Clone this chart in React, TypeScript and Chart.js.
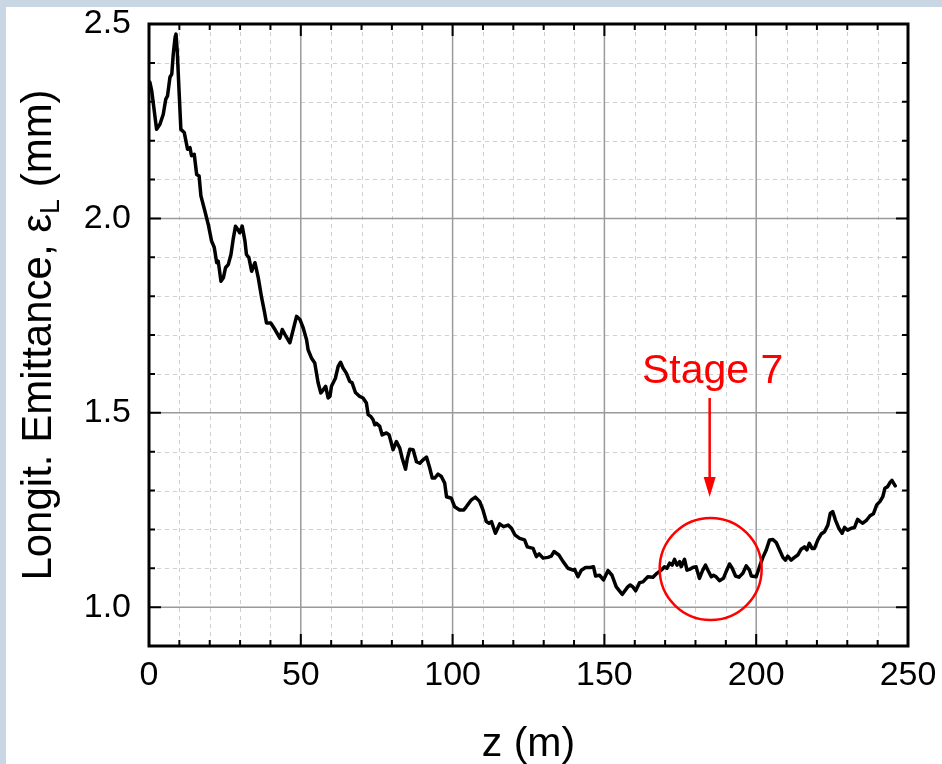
import React, { useEffect, useRef } from "react";
import { Chart, registerables } from "chart.js";

Chart.register(...registerables);

const zValues = [
  0.3, 0.9, 2.5, 3.6, 4.7, 5.5, 6.1, 6.9, 7.5, 8.0, 8.6, 8.9, 9.3, 9.9, 10.5, 11.6, 12.7, 13.5, 14.0, 14.9,
  15.7, 16.5, 17.1, 18.4, 19.5, 20.6, 21.5, 22.3, 22.8, 23.7, 24.5, 25.2, 26.1, 27.0, 27.8, 28.5, 29.2, 29.9,
  30.7, 31.6, 32.1, 32.9, 33.8, 34.9, 36.0, 37.1, 38.0, 38.7, 40.1, 41.5, 43.1, 43.9, 44.8, 46.4, 47.5, 48.6,
  49.7, 50.8, 51.9, 52.4, 53.5, 54.6, 55.7, 56.6, 57.4, 58.2, 59.0, 59.6, 60.1, 61.4, 62.3, 63.1, 63.9, 65.0,
  66.1, 66.9, 68.0, 69.4, 70.5, 71.6, 72.2, 73.1, 73.8, 74.4, 74.9, 76.0, 76.8, 78.2, 79.1, 80.4, 81.5, 82.6,
  83.4, 84.5, 85.1, 85.9, 87.0, 88.1, 89.2, 90.3, 91.4, 92.5, 93.3, 94.1, 95.2, 96.3, 97.4, 98.0, 99.6, 100.7,
  102.3, 103.7, 104.5, 106.2, 107.5, 108.9, 110.0, 111.1, 112.0, 112.8, 114.1, 115.5, 116.8, 118.3, 119.4,
  120.5, 122.1, 123.7, 124.6, 126.5, 127.6, 128.5, 129.8, 131.4, 132.5, 133.4, 135.0, 136.4, 138.0, 139.7,
  140.2, 141.3, 142.4, 143.8, 145.4, 146.4, 147.1, 148.4, 149.7, 151.2, 152.5, 153.9, 155.9, 157.7, 158.5,
  159.4, 160.3, 161.6, 162.7, 164.3, 166.0, 167.3, 168.7, 169.8, 170.6, 171.5, 172.3, 173.1, 173.9, 174.8,
  175.3, 176.4, 177.2, 178.0, 179.1, 180.2, 181.3, 182.4, 183.3, 184.1, 185.2, 185.9, 186.8, 187.9, 189.2,
  190.3, 191.2, 192.1, 193.2, 194.3, 195.6, 196.7, 197.8, 198.4, 200.0, 201.1, 202.2, 203.3, 204.4, 205.5,
  206.6, 207.7, 208.8, 209.6, 210.4, 211.5, 212.6, 213.7, 214.8, 215.9, 216.7, 217.5, 218.4, 219.2, 220.3,
  221.4, 222.5, 223.6, 224.4, 225.2, 226.1, 227.2, 228.3, 229.1, 230.1, 231.3, 232.4, 233.4, 234.3, 235.1,
  236.4, 237.5, 238.6, 239.7, 240.8, 241.7, 242.4, 243.3, 244.1, 244.7, 245.8,
];

const emittance = [
  2.35, 2.328, 2.229, 2.242, 2.268, 2.306, 2.315, 2.363, 2.371, 2.423, 2.466, 2.474, 2.431, 2.328, 2.229, 2.221,
  2.178, 2.182, 2.161, 2.165, 2.113, 2.109, 2.058, 2.019, 1.985, 1.942, 1.925, 1.886, 1.89, 1.838, 1.847, 1.873,
  1.881, 1.907, 1.95, 1.98, 1.972, 1.963, 1.98, 1.942, 1.907, 1.899, 1.864, 1.886, 1.847, 1.796, 1.761, 1.731,
  1.731, 1.714, 1.692, 1.714, 1.701, 1.68, 1.714, 1.748, 1.74, 1.718, 1.688, 1.662, 1.641, 1.628, 1.577, 1.551,
  1.559, 1.568, 1.538, 1.542, 1.568, 1.589, 1.619, 1.63, 1.615, 1.602, 1.581, 1.577, 1.552, 1.542, 1.538, 1.525,
  1.495, 1.49, 1.482, 1.469, 1.473, 1.465, 1.443, 1.448, 1.443, 1.405, 1.426, 1.409, 1.383, 1.355, 1.383, 1.406,
  1.405, 1.374, 1.37, 1.379, 1.386, 1.357, 1.332, 1.332, 1.342, 1.336, 1.319, 1.284, 1.28, 1.258, 1.25, 1.25,
  1.258, 1.276, 1.283, 1.272, 1.25, 1.22, 1.216, 1.22, 1.19, 1.214, 1.207, 1.211, 1.203, 1.186, 1.177, 1.173,
  1.155, 1.151, 1.13, 1.137, 1.126, 1.128, 1.131, 1.143, 1.134, 1.117, 1.1, 1.095, 1.097, 1.078, 1.095, 1.102,
  1.102, 1.104, 1.08, 1.082, 1.07, 1.094, 1.082, 1.052, 1.033, 1.052, 1.057, 1.052, 1.042, 1.063, 1.065, 1.078,
  1.077, 1.087, 1.095, 1.104, 1.1, 1.113, 1.108, 1.123, 1.108, 1.117, 1.104, 1.123, 1.095, 1.097, 1.102, 1.104,
  1.074, 1.095, 1.108, 1.095, 1.078, 1.082, 1.078, 1.068, 1.074, 1.095, 1.111, 1.1, 1.08, 1.077, 1.087, 1.106,
  1.095, 1.08, 1.078, 1.104, 1.128, 1.147, 1.173, 1.174, 1.166, 1.147, 1.128, 1.121, 1.131, 1.121, 1.128, 1.134,
  1.149, 1.155, 1.147, 1.164, 1.151, 1.151, 1.173, 1.188, 1.194, 1.211, 1.241, 1.246, 1.224, 1.203, 1.19, 1.205,
  1.198, 1.203, 1.205, 1.226, 1.22, 1.216, 1.224, 1.235, 1.24, 1.263, 1.272, 1.284, 1.306, 1.31, 1.321, 1.326,
  1.312,
];

const xTickValues = [0, 50, 100, 150, 200, 250];
const yTickValues = [1.0, 1.5, 2.0, 2.5];
const X_MIN = 0;
const X_MAX = 250;
const Y_MIN = 0.9;
const Y_MAX = 2.5;
const X_MINOR_STEP = 10;
const Y_MINOR_STEP = 0.1;

const xTitle = "z (m)";
const yTitleMain = "Longit. Emittance, ε";
const yTitleSub = "L";
const yTitleEnd = " (mm)";

const stageLabel = "Stage 7";
const stageCenterZ = 185;
const stageCenterV = 1.098;

const FONT = '"Liberation Sans", Arial, Helvetica, sans-serif';

function minorValues(min: number, max: number, step: number): number[] {
  const out: number[] = [];
  const n = Math.round((max - min) / step);
  for (let i = 0; i <= n; i++) out.push(Math.round((min + i * step) * 1000) / 1000);
  return out;
}

const decorPlugin = {
  id: "decor",
  beforeDraw(chart: any) {
    const ctx = chart.ctx;
    ctx.save();
    ctx.fillStyle = "#c9d6e3";
    ctx.fillRect(0, 0, chart.width, chart.height);
    ctx.fillStyle = "#ffffff";
    ctx.fillRect(6, 7, chart.width - 6, chart.height - 7);
    ctx.restore();
  },
  beforeDatasetsDraw(chart: any) {
    const ctx = chart.ctx;
    const { left, right, top, bottom } = chart.chartArea;
    const xs = chart.scales.x;
    const ys = chart.scales.y;
    ctx.save();
    ctx.strokeStyle = "#cfcfcf";
    ctx.lineWidth = 1;
    ctx.setLineDash([4, 4]);
    minorValues(X_MIN, X_MAX, X_MINOR_STEP).forEach((v) => {
      if (xTickValues.includes(v)) return;
      const p = Math.round(xs.getPixelForValue(v)) + 0.5;
      ctx.beginPath();
      ctx.moveTo(p, top);
      ctx.lineTo(p, bottom);
      ctx.stroke();
    });
    minorValues(Y_MIN, Y_MAX, Y_MINOR_STEP).forEach((v) => {
      if (yTickValues.some((t) => Math.abs(t - v) < 1e-6)) return;
      if (Math.abs(v - Y_MIN) < 1e-6) return;
      const p = Math.round(ys.getPixelForValue(v)) + 0.5;
      ctx.beginPath();
      ctx.moveTo(left, p);
      ctx.lineTo(right, p);
      ctx.stroke();
    });
    ctx.setLineDash([]);
    ctx.strokeStyle = "#9a9a9a";
    ctx.lineWidth = 1.5;
    xTickValues.forEach((v) => {
      if (v === X_MIN || v === X_MAX) return;
      const p = xs.getPixelForValue(v);
      ctx.beginPath();
      ctx.moveTo(p, top);
      ctx.lineTo(p, bottom);
      ctx.stroke();
    });
    yTickValues.forEach((v) => {
      if (v === Y_MAX) return;
      const p = ys.getPixelForValue(v);
      ctx.beginPath();
      ctx.moveTo(left, p);
      ctx.lineTo(right, p);
      ctx.stroke();
    });
    ctx.restore();
  },
  afterDatasetsDraw(chart: any) {
    const ctx = chart.ctx;
    const { left, right, top, bottom } = chart.chartArea;
    const xs = chart.scales.x;
    const ys = chart.scales.y;
    ctx.save();
    ctx.strokeStyle = "#000";
    ctx.lineWidth = 2;
    const MAJ = 12;
    const MIN = 6;
    minorValues(X_MIN, X_MAX, X_MINOR_STEP).forEach((v) => {
      const len = xTickValues.includes(v) ? MAJ : MIN;
      const p = xs.getPixelForValue(v);
      ctx.beginPath();
      ctx.moveTo(p, bottom);
      ctx.lineTo(p, bottom - len);
      ctx.moveTo(p, top);
      ctx.lineTo(p, top + len);
      ctx.stroke();
    });
    minorValues(Y_MIN, Y_MAX, Y_MINOR_STEP).forEach((v) => {
      const len = yTickValues.some((t) => Math.abs(t - v) < 1e-6) ? MAJ : MIN;
      const p = ys.getPixelForValue(v);
      ctx.beginPath();
      ctx.moveTo(left, p);
      ctx.lineTo(left + len, p);
      ctx.moveTo(right, p);
      ctx.lineTo(right - len, p);
      ctx.stroke();
    });
    ctx.lineWidth = 3;
    ctx.strokeRect(left, top, right - left, bottom - top);

    // Stage 7 annotation
    const cx = xs.getPixelForValue(stageCenterZ);
    const cy = ys.getPixelForValue(stageCenterV);
    ctx.strokeStyle = "#ff0000";
    ctx.fillStyle = "#ff0000";
    ctx.lineWidth = 2.5;
    ctx.beginPath();
    ctx.arc(cx, cy, 51, 0, Math.PI * 2);
    ctx.stroke();
    const ax = cx - 1;
    const tipY = cy - 72;
    ctx.beginPath();
    ctx.moveTo(ax, cy - 171);
    ctx.lineTo(ax, tipY - 16);
    ctx.stroke();
    ctx.beginPath();
    ctx.moveTo(ax, tipY);
    ctx.lineTo(ax - 6, tipY - 20);
    ctx.lineTo(ax + 6, tipY - 20);
    ctx.closePath();
    ctx.fill();
    ctx.font = `41px ${FONT}`;
    ctx.textAlign = "center";
    ctx.textBaseline = "alphabetic";
    ctx.fillText(stageLabel, cx + 2, cy - 186);

    // x title
    ctx.fillStyle = "#000";
    ctx.font = `41px ${FONT}`;
    ctx.textAlign = "center";
    ctx.fillText(xTitle, (left + right) / 2, 756);

    // y title with subscript
    const mainFont = `42px ${FONT}`;
    const subFont = `27px ${FONT}`;
    ctx.font = mainFont;
    const w1 = ctx.measureText(yTitleMain).width;
    const w3 = ctx.measureText(yTitleEnd).width;
    ctx.font = subFont;
    const w2 = ctx.measureText(yTitleSub).width;
    const total = w1 + w2 + w3;
    ctx.translate(51, (top + bottom) / 2);
    ctx.rotate(-Math.PI / 2);
    ctx.textAlign = "left";
    let x0 = -total / 2;
    ctx.font = mainFont;
    ctx.fillText(yTitleMain, x0, 0);
    x0 += w1;
    ctx.font = subFont;
    ctx.fillText(yTitleSub, x0, 8);
    x0 += w2;
    ctx.font = mainFont;
    ctx.fillText(yTitleEnd, x0, 0);
    ctx.restore();
  },
};

export default function App() {
  const canvasRef = useRef<HTMLCanvasElement | null>(null);

  useEffect(() => {
    const canvas = canvasRef.current;
    if (!canvas) return;
    const data = zValues.map((z, i) => ({ x: z, y: emittance[i] }));
    const chart = new Chart(canvas, {
      type: "line",
      data: {
        datasets: [
          {
            data,
            borderColor: "#000000",
            borderWidth: 3.5,
            pointRadius: 0,
            tension: 0,
            borderJoinStyle: "round",
            borderCapStyle: "round",
            fill: false,
          },
        ],
      },
      options: {
        responsive: false,
        animation: false,
        devicePixelRatio: 1,
        layout: { padding: { top: 24, right: 34, left: 0, bottom: 0 } },
        plugins: { legend: { display: false }, tooltip: { enabled: false } },
        scales: {
          x: {
            type: "linear",
            min: X_MIN,
            max: X_MAX,
            afterFit: (s: any) => {
              s.height = 118;
              s.paddingLeft = 0;
              s.paddingRight = 0;
              s.paddingTop = 0;
              s.paddingBottom = 0;
            },
            afterBuildTicks: (s: any) => {
              s.ticks = xTickValues.map((v) => ({ value: v }));
            },
            grid: { display: false, drawTicks: false, tickLength: 0 },
            border: { display: false },
            ticks: {
              padding: 9,
              color: "#000",
              font: { family: FONT, size: 34 },
              maxRotation: 0,
              autoSkip: false,
              callback: (v: any) => String(v),
            },
          },
          y: {
            type: "linear",
            min: Y_MIN,
            max: Y_MAX,
            afterFit: (s: any) => {
              s.width = 149;
              s.paddingLeft = 0;
              s.paddingRight = 0;
              s.paddingTop = 0;
              s.paddingBottom = 0;
            },
            afterBuildTicks: (s: any) => {
              s.ticks = yTickValues.map((v) => ({ value: v }));
            },
            grid: { display: false, drawTicks: false, tickLength: 0 },
            border: { display: false },
            ticks: {
              padding: 18,
              color: "#000",
              font: { family: FONT, size: 34 },
              autoSkip: false,
              callback: (v: any) => Number(v).toFixed(1),
            },
          },
        },
      },
      plugins: [decorPlugin],
    });
    return () => chart.destroy();
  }, []);

  return (
    <div style={{ position: "fixed", left: 0, top: 0, width: 942, height: 764 }}>
      <canvas ref={canvasRef} width={942} height={764} style={{ display: "block" }} />
    </div>
  );
}
